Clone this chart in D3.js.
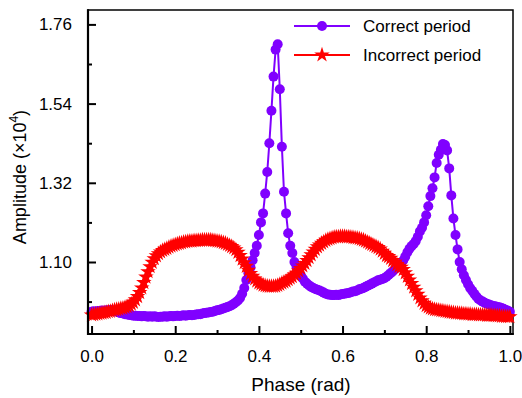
<!DOCTYPE html>
<html>
<head>
<meta charset="utf-8">
<script src="https://cdn.jsdelivr.net/npm/d3@7"></script>
<style>
  body { margin: 0; background: #fff; }
  svg { display: block; font-family: "Liberation Sans", Arial, sans-serif; }
</style>
</head>
<body>
<svg id="chart" width="522" height="398"></svg>
<script>
// phase grid, step 0.005 (values at each step)
var phase = [
  0.000,0.005,0.010,0.015,0.020,0.025,0.030,0.035,0.040,0.045,
  0.050,0.055,0.060,0.065,0.070,0.075,0.080,0.085,0.090,0.095,
  0.100,0.105,0.110,0.115,0.120,0.125,0.130,0.135,0.140,0.145,
  0.150,0.155,0.160,0.165,0.170,0.175,0.180,0.185,0.190,0.195,
  0.200,0.205,0.210,0.215,0.220,0.225,0.230,0.235,0.240,0.245,
  0.250,0.255,0.260,0.265,0.270,0.275,0.280,0.285,0.290,0.295,
  0.300,0.305,0.310,0.315,0.320,0.325,0.330,0.335,0.340,0.345,
  0.350,0.355,0.360,0.365,0.370,0.375,0.380,0.385,0.390,0.395,
  0.400,0.405,0.410,0.415,0.420,0.425,0.430,0.435,0.440,0.445,
  0.450,0.455,0.460,0.465,0.470,0.475,0.480,0.485,0.490,0.495,
  0.500,0.505,0.510,0.515,0.520,0.525,0.530,0.535,0.540,0.545,
  0.550,0.555,0.560,0.565,0.570,0.575,0.580,0.585,0.590,0.595,
  0.600,0.605,0.610,0.615,0.620,0.625,0.630,0.635,0.640,0.645,
  0.650,0.655,0.660,0.665,0.670,0.675,0.680,0.685,0.690,0.695,
  0.700,0.705,0.710,0.715,0.720,0.725,0.730,0.735,0.740,0.745,
  0.750,0.755,0.760,0.765,0.770,0.775,0.780,0.785,0.790,0.795,
  0.800,0.805,0.810,0.815,0.820,0.825,0.830,0.835,0.840,0.845,
  0.850,0.855,0.860,0.865,0.870,0.875,0.880,0.885,0.890,0.895,
  0.900,0.905,0.910,0.915,0.920,0.925,0.930,0.935,0.940,0.945,
  0.950,0.955,0.960,0.965,0.970,0.975,0.980,0.985,0.990,0.995,
  1.000
];

var correctPeriod = [
  0.962,0.963,0.962,0.964,0.963,0.965,0.964,0.966,0.965,0.967,
  0.966,0.964,0.962,0.960,0.958,0.957,0.955,0.954,0.953,0.952,
  0.951,0.951,0.950,0.950,0.949,0.950,0.949,0.948,0.949,0.948,
  0.949,0.948,0.947,0.948,0.948,0.949,0.948,0.949,0.950,0.949,
  0.950,0.951,0.950,0.951,0.952,0.951,0.952,0.953,0.952,0.953,
  0.954,0.955,0.955,0.957,0.958,0.959,0.960,0.961,0.962,0.964,
  0.966,0.967,0.969,0.971,0.973,0.975,0.977,0.980,0.984,0.988,
  0.993,1.000,1.012,1.028,1.050,1.069,1.085,1.105,1.125,1.145,
  1.175,1.210,1.235,1.290,1.350,1.430,1.520,1.615,1.690,1.705,
  1.580,1.420,1.295,1.235,1.180,1.145,1.125,1.100,1.087,1.075,
  1.064,1.054,1.045,1.040,1.035,1.031,1.028,1.025,1.023,1.021,
  1.018,1.015,1.012,1.010,1.009,1.008,1.008,1.009,1.008,1.010,
  1.011,1.012,1.013,1.014,1.016,1.018,1.019,1.021,1.024,1.026,
  1.028,1.031,1.034,1.037,1.040,1.043,1.046,1.049,1.051,1.053,
  1.055,1.059,1.064,1.069,1.074,1.080,1.085,1.090,1.095,1.104,
  1.115,1.127,1.137,1.144,1.150,1.158,1.170,1.185,1.195,1.210,
  1.230,1.255,1.283,1.305,1.335,1.375,1.398,1.412,1.428,1.425,
  1.410,1.360,1.285,1.221,1.175,1.135,1.100,1.080,1.063,1.050,
  1.038,1.028,1.020,1.012,1.004,0.997,0.993,0.990,0.987,0.984,
  0.982,0.980,0.978,0.977,0.975,0.974,0.972,0.970,0.967,0.965,
  0.962
];

var incorrectPeriod = [
  0.953,0.954,0.955,0.956,0.957,0.958,0.959,0.960,0.962,0.963,
  0.965,0.967,0.968,0.969,0.971,0.972,0.974,0.976,0.979,0.983,
  0.988,0.995,1.004,1.015,1.028,1.043,1.058,1.073,1.087,1.099,
  1.109,1.117,1.123,1.128,1.132,1.135,1.138,1.141,1.144,1.146,
  1.148,1.150,1.152,1.153,1.155,1.156,1.157,1.158,1.158,1.159,
  1.159,1.160,1.160,1.161,1.161,1.161,1.161,1.161,1.160,1.159,
  1.158,1.157,1.156,1.154,1.152,1.149,1.146,1.143,1.139,1.134,
  1.127,1.118,1.108,1.098,1.088,1.077,1.068,1.060,1.053,1.047,
  1.042,1.039,1.036,1.034,1.033,1.032,1.032,1.032,1.033,1.035,
  1.038,1.041,1.044,1.047,1.051,1.055,1.059,1.064,1.069,1.075,
  1.082,1.089,1.096,1.104,1.112,1.120,1.128,1.135,1.142,1.147,
  1.152,1.156,1.160,1.163,1.165,1.167,1.169,1.170,1.170,1.171,
  1.171,1.171,1.170,1.170,1.169,1.168,1.167,1.166,1.165,1.163,
  1.161,1.158,1.155,1.152,1.149,1.146,1.143,1.140,1.136,1.130,
  1.124,1.118,1.115,1.110,1.104,1.099,1.093,1.088,1.085,1.079,
  1.070,1.060,1.050,1.040,1.030,1.020,1.010,1.000,0.992,0.985,
  0.979,0.975,0.972,0.970,0.968,0.967,0.966,0.965,0.964,0.963,
  0.962,0.961,0.960,0.959,0.958,0.958,0.957,0.957,0.956,0.956,
  0.955,0.955,0.954,0.954,0.954,0.953,0.953,0.953,0.953,0.952,
  0.952,0.952,0.951,0.951,0.950,0.950,0.949,0.949,0.948,0.948,
  0.948
];

var xMajorTicks = [0, 0.2, 0.4, 0.6, 0.8, 1.0];
var xMinorTicks = [0.1, 0.3, 0.5, 0.7, 0.9];
var yMajorTicks = [1.10, 1.32, 1.54, 1.76];
var yMinorTicks = [0.99, 1.21, 1.43, 1.65];

var seriesNames = ["Correct period", "Incorrect period"];
var seriesColors = ["#8000ff", "#ff0000"];

var svg = d3.select("#chart");
var mLeft = 88, mRight = 513, mTop = 10, mBottom = 334;

var x = d3.scaleLinear().domain([-0.0085, 1.0075]).range([mLeft, mRight]);
var y = d3.scaleLinear().domain([0.90, 1.80]).range([mBottom, mTop]);

// frame
svg.append("rect")
  .attr("x", mLeft).attr("y", mTop)
  .attr("width", mRight - mLeft).attr("height", mBottom - mTop)
  .attr("fill", "none").attr("stroke", "#000").attr("stroke-width", 1.5);

// series
var correct = phase.map((p, i) => [p, correctPeriod[i]]);
var incorrect = phase.map((p, i) => [p, incorrectPeriod[i]]);

var line = d3.line().x(d => x(d[0])).y(d => y(d[1]));

var plot = svg.append("g");

plot.append("path").datum(correct)
  .attr("d", line).attr("fill", "none")
  .attr("stroke", seriesColors[0]).attr("stroke-width", 2);
plot.selectAll(".dot").data(correct).enter().append("circle")
  .attr("class", "dot")
  .attr("cx", d => x(d[0])).attr("cy", d => y(d[1]))
  .attr("r", 5).attr("fill", seriesColors[0]);

var star = d3.symbol().type(d3.symbolStar).size(75);
plot.append("path").datum(incorrect)
  .attr("d", line).attr("fill", "none")
  .attr("stroke", seriesColors[1]).attr("stroke-width", 2);
plot.selectAll(".star").data(incorrect).enter().append("path")
  .attr("class", "star")
  .attr("transform", d => "translate(" + x(d[0]) + "," + y(d[1]) + ")")
  .attr("d", star).attr("fill", seriesColors[1]);

// axes, ticks pointing inward
var xAxis = svg.append("g").attr("transform", "translate(0," + mBottom + ")");
xAxis.call(d3.axisBottom(x).tickValues(xMajorTicks).tickSizeInner(-8).tickSizeOuter(0)
  .tickPadding(16).tickFormat(d3.format(".1f")));
xAxis.append("g").call(d3.axisBottom(x).tickValues(xMinorTicks).tickSize(-4).tickFormat(""));

var yAxis = svg.append("g").attr("transform", "translate(" + mLeft + ",0)");
yAxis.call(d3.axisLeft(y).tickValues(yMajorTicks).tickSizeInner(-8).tickSizeOuter(0)
  .tickPadding(16).tickFormat(d3.format(".2f")));
yAxis.append("g").call(d3.axisLeft(y).tickValues(yMinorTicks).tickSize(-4).tickFormat(""));

svg.selectAll(".domain").remove();
svg.selectAll(".tick line").attr("stroke", "#000").attr("stroke-width", 2);
svg.selectAll(".tick text").attr("font-size", 17).attr("fill", "#000")
  .attr("font-family", "'Liberation Sans', Arial, sans-serif");

// thicker left and bottom axis lines
svg.append("line").attr("x1", mLeft).attr("x2", mLeft).attr("y1", mTop - 0.75).attr("y2", mBottom + 1)
  .attr("stroke", "#000").attr("stroke-width", 2.2);
svg.append("line").attr("x1", mLeft - 1).attr("x2", mRight + 0.75).attr("y1", mBottom).attr("y2", mBottom)
  .attr("stroke", "#000").attr("stroke-width", 2.2);

// axis titles
svg.append("text")
  .attr("x", 301).attr("y", 391)
  .attr("text-anchor", "middle").attr("font-size", 19)
  .text("Phase (rad)");

var yTitle = svg.append("text")
  .attr("transform", "translate(25.5,177) rotate(-90)")
  .attr("text-anchor", "middle").attr("font-size", 18);
yTitle.append("tspan").text("Amplitude (\u00d710");
yTitle.append("tspan").attr("font-size", 12).attr("dy", -8).text("4");
yTitle.append("tspan").attr("dy", 8).text(")");

// legend
var legend = svg.append("g");
var legendY = [26, 55];
seriesNames.forEach(function(name, i) {
  var g = legend.append("g").attr("transform", "translate(0," + legendY[i] + ")");
  g.append("line").attr("x1", 294).attr("x2", 350)
    .attr("stroke", seriesColors[i]).attr("stroke-width", 2);
  if (i === 0) {
    g.append("circle").attr("cx", 322).attr("r", 5).attr("fill", seriesColors[i]);
  } else {
    g.append("path").attr("transform", "translate(322,0)")
      .attr("d", d3.symbol().type(d3.symbolStar).size(75)).attr("fill", seriesColors[i]);
  }
  g.append("text").attr("x", 363).attr("dy", "0.35em")
    .attr("font-size", 17).text(name);
});
</script>
</body>
</html>
